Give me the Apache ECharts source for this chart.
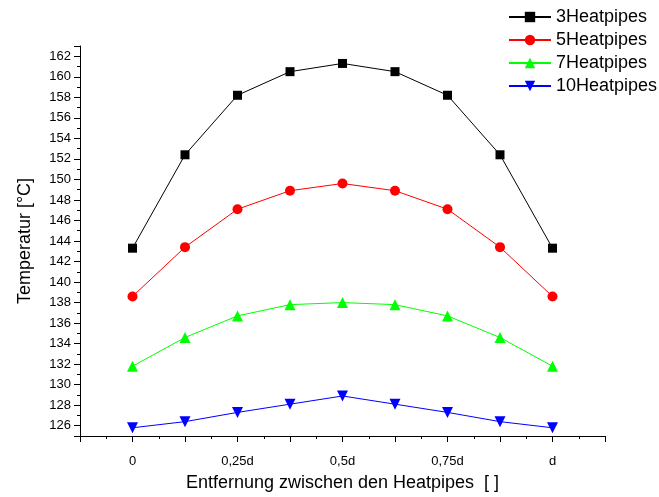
<!DOCTYPE html>
<html>
<head>
<meta charset="utf-8">
<script src="https://cdn.jsdelivr.net/npm/echarts@6/dist/echarts.min.js"></script>
<style>
  html, body { margin: 0; padding: 0; background: #fff; }
  #chart { width: 659px; height: 497px; }
</style>
</head>
<body>
<div id="chart"></div>
<script>
// Positions along the gap between two heat pipes (fraction of d)
const positions = [0, 0.125, 0.25, 0.375, 0.5, 0.625, 0.75, 0.875, 1];

// Temperatures in °C for each heat-pipe count
const temp3 = [143.3, 152.4, 158.2, 160.5, 161.3, 160.5, 158.2, 152.4, 143.3];
const temp5 = [138.6, 143.4, 147.1, 148.9, 149.6, 148.9, 147.1, 143.4, 138.6];
const temp7 = [131.8, 134.6, 136.7, 137.8, 138.0, 137.8, 136.7, 134.6, 131.8];
const temp10 = [125.8, 126.4, 127.3, 128.1, 128.9, 128.1, 127.3, 126.4, 125.8];

const seriesNames = ['3Heatpipes', '5Heatpipes', '7Heatpipes', '10Heatpipes'];

// Labelled x ticks
const xTickValues = [0, 0.25, 0.5, 0.75, 1];
const xTickLabels = ['0', '0,25d', '0,5d', '0,75d', 'd'];

const FONT = '"Liberation Sans", Arial, sans-serif';

function pairs(xs, ys) {
  return xs.map((x, i) => [x, ys[i]]);
}

function xLabel(v) {
  for (let i = 0; i < xTickValues.length; i++) {
    if (Math.abs(v - xTickValues[i]) < 1e-9) return xTickLabels[i];
  }
  return '';
}

const axisLineStyle = { color: '#000', width: 1 };

function makeSeries(name, data, color, symbol, size, rotate) {
  return {
    name: name,
    type: 'line',
    data: pairs(positions, data),
    symbol: symbol,
    symbolSize: size,
    symbolRotate: rotate || 0,
    showAllSymbol: true,
    lineStyle: { color: color, width: 1 },
    itemStyle: { color: color, borderColor: color, borderWidth: 0 },
    emphasis: { disabled: true },
    animation: false
  };
}

const chart = echarts.init(document.getElementById('chart'), null, { renderer: 'canvas' });

chart.setOption({
  backgroundColor: '#fff',
  animation: false,
  textStyle: { fontFamily: FONT },
  grid: { left: 80, right: 54, top: 46, bottom: 60, containLabel: false },
  legend: {
    orient: 'vertical',
    left: 503,
    top: 3,
    itemWidth: 42,
    itemHeight: 13,
    itemGap: 5,
    textStyle: { fontFamily: FONT, fontSize: 18, color: '#000' },
    data: seriesNames
  },
  xAxis: {
    type: 'value',
    min: -0.125,
    max: 1.125,
    interval: 0.125,
    name: 'Entfernung zwischen den Heatpipes  [ ]',
    nameLocation: 'middle',
    nameGap: 38,
    nameTextStyle: { fontFamily: FONT, fontSize: 18, color: '#000' },
    axisLine: { show: true, onZero: false, lineStyle: axisLineStyle },
    axisTick: { show: true, length: 6, lineStyle: axisLineStyle },
    minorTick: { show: true, splitNumber: 2, length: 3, lineStyle: axisLineStyle },
    splitLine: { show: false },
    minorSplitLine: { show: false },
    axisLabel: {
      fontFamily: FONT,
      fontSize: 13,
      color: '#000',
      margin: 19,
      formatter: xLabel
    }
  },
  yAxis: {
    type: 'value',
    min: 125,
    max: 163,
    splitNumber: 19,
    minInterval: 2,
    maxInterval: 2,
    name: 'Temperatur [°C]',
    nameLocation: 'middle',
    nameGap: 46,
    nameTextStyle: { fontFamily: FONT, fontSize: 18, color: '#000' },
    axisLine: { show: true, onZero: false, lineStyle: axisLineStyle },
    axisTick: { show: true, length: 6, lineStyle: axisLineStyle },
    minorTick: { show: true, splitNumber: 2, length: 3, lineStyle: axisLineStyle },
    splitLine: { show: false },
    minorSplitLine: { show: false },
    axisLabel: {
      fontFamily: FONT,
      fontSize: 13,
      color: '#000',
      margin: 9,
      showMinLabel: false,
      showMaxLabel: false,
      formatter: function (v) { return (Math.round(v) % 2 === 0) ? String(v) : ''; }
    }
  },
  series: [
    makeSeries(seriesNames[0], temp3, '#000000', 'rect', 9),
    makeSeries(seriesNames[1], temp5, '#ff0000', 'circle', 10),
    makeSeries(seriesNames[2], temp7, '#00ff00', 'triangle', 11),
    makeSeries(seriesNames[3], temp10, '#0000ff', 'triangle', 11, 180)
  ]
});
</script>
</body>
</html>
